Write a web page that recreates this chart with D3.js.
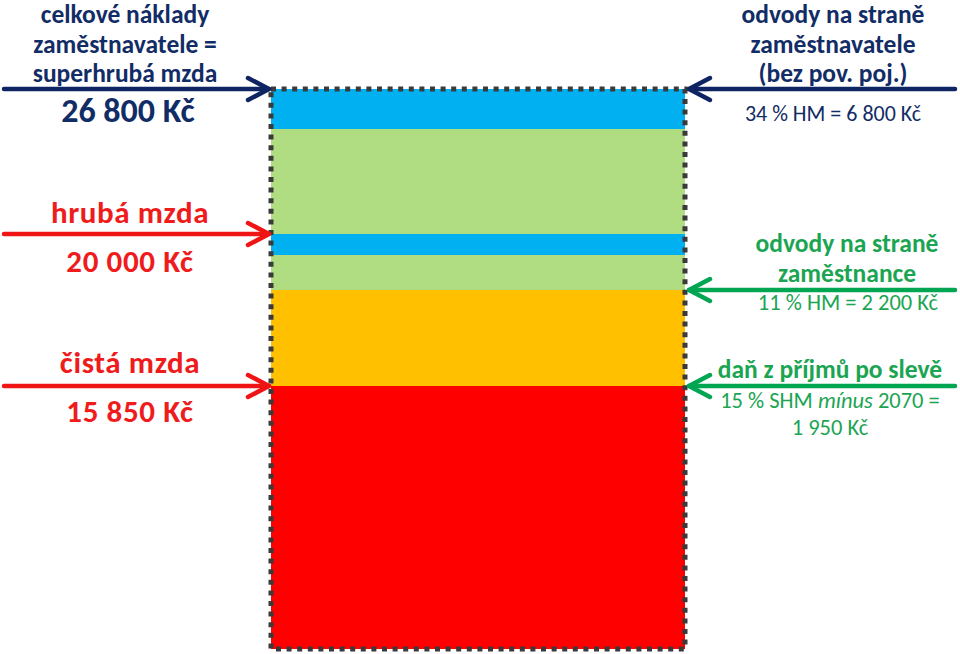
<!DOCTYPE html>
<html>
<head>
<meta charset="utf-8">
<script src="https://cdn.jsdelivr.net/npm/d3@7"></script>
<style>
  body { margin: 0; background: #fff; }
  text { font-family: Carlito, Lato, "Open Sans", sans-serif; }
</style>
</head>
<body>
<div id="chart"></div>
<script>
// stacked segments, bottom to top (schematic sizes, not to Kč scale)
var segmentNames = ["čistá mzda", "daň", "odvody zaměstnance", "odvody zaměstnance (ZP)", "odvody zaměstnavatele", "odvody zaměstnavatele (ZP)"];
var segmentSizes = [263, 96, 35, 21, 105, 40];
var segmentColors = ["#ff0000", "#ffc000", "#b0dc82", "#00b0f0", "#b0dc82", "#00b0f0"];

// arrows: side, which stack boundary they point at (count of segments below)
var arrowSides = ["left", "left", "left", "right", "right", "right"];
var arrowLevels = [6, 4, 1, 6, 2, 1];
var arrowColors = ["#0f2462", "#f01414", "#f01414", "#0f2462", "#00a651", "#00a651"];

// label blocks
var leftNavyLines = ["celkové náklady", "zaměstnavatele =", "superhrubá mzda"];
var leftNavyValue = "26 800 Kč";
var rightNavyLines = ["odvody na straně", "zaměstnavatele", "(bez pov. poj.)"];
var rightNavyValue = "34 % HM = 6 800 Kč";
var grossLabel = ["hrubá mzda", "20 000 Kč"];
var netLabel = ["čistá mzda", "15 850 Kč"];
var employeeLines = ["odvody na straně", "zaměstnance"];
var employeeValue = "11 % HM = 2 200 Kč";
var taxTitle = "daň z příjmů po slevě";
var taxValue = "1 950 Kč";

var width = 960, height = 654;
var svg = d3.select("#chart").append("svg")
  .attr("width", width).attr("height", height);

var stack = [];
var acc = 0;
segmentSizes.forEach(function(v, i) {
  stack.push({ name: segmentNames[i], y0: acc, y1: acc + v, color: segmentColors[i] });
  acc += v;
});
var total = acc;
var bounds = [0].concat(stack.map(function(d) { return d.y1; }));

var x = d3.scaleBand().domain(["mzda"]).range([271, 685]).padding(0);
var y = d3.scaleLinear().domain([0, total]).range([649, 89]);

svg.append("g").selectAll("rect")
  .data(stack)
  .enter().append("rect")
  .attr("x", x("mzda"))
  .attr("width", x.bandwidth())
  .attr("y", function(d) { return y(d.y1); })
  .attr("height", function(d) { return y(d.y0) - y(d.y1); })
  .attr("fill", function(d) { return d.color; });

// dotted frame
svg.append("rect")
  .attr("x", x("mzda"))
  .attr("y", y(total))
  .attr("width", x.bandwidth())
  .attr("height", y(0) - y(total))
  .attr("fill", "none")
  .attr("stroke", "#3a3a3a")
  .attr("stroke-width", 5)
  .attr("stroke-dasharray", "5 5.6");

// arrows
var arrows = svg.append("g").attr("fill", "none").attr("stroke-width", 4.5)
  .attr("stroke-linecap", "round").attr("stroke-linejoin", "round");
arrowSides.forEach(function(side, i) {
  var yy = y(bounds[arrowLevels[i]]);
  var tip, start, dir;
  if (side == "left") { tip = x("mzda") - 2; start = 4; dir = -1; }
  else { tip = x("mzda") + x.bandwidth() + 4; start = 955; dir = 1; }
  var g = arrows.append("g").attr("stroke", arrowColors[i]);
  g.append("line").attr("x1", start).attr("x2", tip).attr("y1", yy).attr("y2", yy);
  g.append("path").attr("d", d3.line()([[tip + dir * 21, yy - 11], [tip, yy], [tip + dir * 21, yy + 11]]));
});

function label(tx, ty, str, size, color, weight) {
  return svg.append("text")
    .attr("x", tx).attr("y", ty)
    .attr("text-anchor", "middle")
    .attr("font-size", size)
    .attr("font-weight", weight || "normal")
    .attr("fill", color)
    .text(str);
}

var navy = "#122c66", red = "#ee1c1c", green = "#1ba552";

leftNavyLines.forEach(function(s, i) { label(125, 23 + i * 29.5, s, 25.5, navy, "bold"); });
label(128, 122, leftNavyValue, 34, navy, "bold");
rightNavyLines.forEach(function(s, i) { label(833, 23 + i * 29.5, s, 25.5, navy, "bold"); });
label(833, 121, rightNavyValue, 22, navy);

label(130, 223, grossLabel[0], 31, red, 600).attr("letter-spacing", 0.6);
label(130, 272, grossLabel[1], 31, red, 600).attr("letter-spacing", 0.6);
label(130, 373, netLabel[0], 31, red, 600).attr("letter-spacing", 0.6);
label(130, 422, netLabel[1], 31, red, 600).attr("letter-spacing", 0.6);

employeeLines.forEach(function(s, i) { label(847, 252 + i * 30, s, 25.5, green, "bold"); });
label(848, 310, employeeValue, 22.5, green);
label(830, 378, taxTitle, 25.5, green, "bold");

var t = label(830, 408, "", 22.5, green);
t.append("tspan").text("15 % SHM ");
t.append("tspan").attr("font-style", "italic").text("mínus");
t.append("tspan").text(" 2070 =");
label(830, 435, taxValue, 22.5, green);
</script>
</body>
</html>
